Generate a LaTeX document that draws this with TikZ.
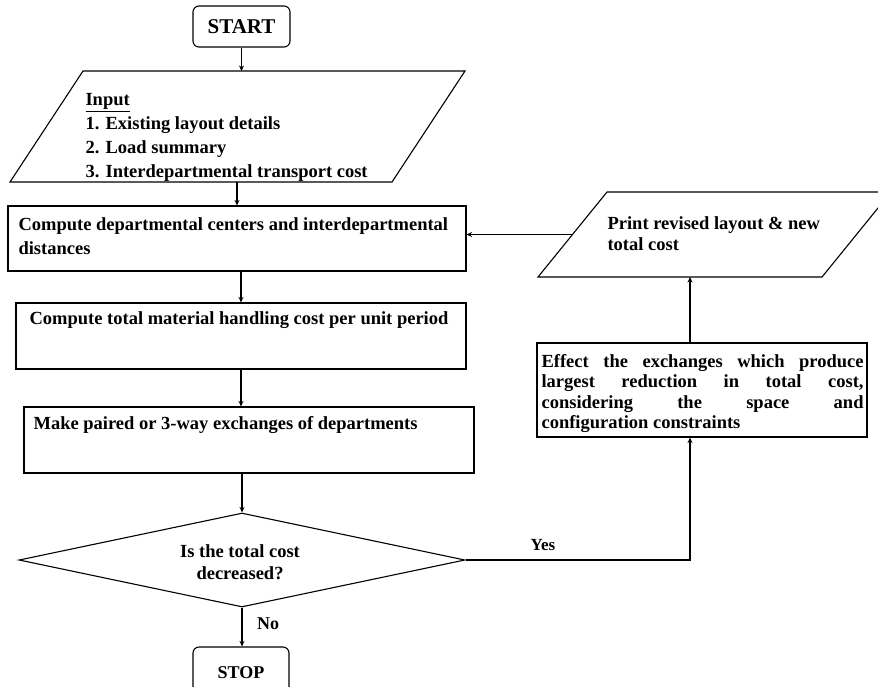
\documentclass[tikz,border=0pt]{standalone}
\usepackage{fontspec}
\setmainfont{Liberation Serif}
\usetikzlibrary{arrows.meta,shapes.geometric}
\begin{document}
\begin{tikzpicture}[x=1pt,y=-1pt,
  line width=1.1pt,
  arr/.style={-{Stealth[length=5.5pt,width=5pt]}},
  box/.style={draw, rectangle, inner sep=0pt},
  term/.style={draw, rectangle, rounded corners=6pt, inner sep=0pt},
  area/.style={rectangle, inner sep=0pt, outer sep=0pt},
  dec/.style={draw, diamond, inner sep=0pt},
  txt/.style={inner sep=0pt, align=left, font=\fontsize{18.5}{24}\selectfont\bfseries},
]
\useasboundingbox (0,0) rectangle (878,686);

% terminals
\node[term, minimum width=97pt, minimum height=41pt,
      font=\fontsize{21}{24}\selectfont\bfseries] (start) at (241.5,26.5) {START};
\node[term, minimum width=96pt, minimum height=52pt,
      font=\fontsize{18}{22}\selectfont\bfseries] (stop) at (241,673) {STOP};

% input parallelogram
\node[area, minimum width=455pt, minimum height=111pt] (inp) at (237.5,126.5) {};
\draw ([xshift=73pt]inp.north west) -- (inp.north east)
   -- ([xshift=-73pt]inp.south east) -- (inp.south west) -- cycle;
\node[txt, anchor=north west] (inptxt) at (85,93)
  {\underline{Input}\\1. Existing layout details\\2. Load summary\\3. Interdepartmental transport cost};

% process boxes
\node[box, minimum width=458pt, minimum height=65pt] (box1) at (237,238.5) {};
\node[txt, anchor=north west] (box1txt) at (18,217)
  {Compute departmental centers and interdepartmental\\distances};

\node[box, minimum width=450pt, minimum height=66pt] (box2) at (241,336) {};
\node[txt, anchor=north] (box2txt) at (239,311)
  {Compute total material handling cost per unit period};

\node[box, minimum width=450pt, minimum height=66pt] (box3) at (249,440) {};
\node[txt, anchor=north west] (box3txt) at (33,416)
  {Make paired or 3-way exchanges of departments};

% decision
\node[dec, minimum width=446pt, minimum height=94pt] (dia) at (242,560) {};
\node[txt, align=center, font=\fontsize{18.5}{22}\selectfont\bfseries, anchor=north] (diatxt) at (240,544)
  {Is the total cost\\decreased?};

% right column
\node[area, minimum width=353pt, minimum height=85pt] (pr) at (714.5,234.5) {};
\draw ([xshift=69pt]pr.north west) -- (pr.north east)
   -- ([xshift=-69pt]pr.south east) -- (pr.south west) -- cycle;
\node[txt, anchor=north west, font=\fontsize{18.5}{21}\selectfont\bfseries] (prtxt) at (607,216)
  {Print revised layout \& new\\total cost};

\node[box, minimum width=330pt, minimum height=94pt] (eff) at (702,390) {};
\node[txt, anchor=north west, font=\fontsize{18.5}{20.3}\selectfont\bfseries] (efftxt) at (541,354)
  {\makebox[322pt][s]{Effect the exchanges which produce}\\
   \makebox[322pt][s]{largest reduction in total cost,}\\
   \makebox[322pt][s]{considering the space and}\\
   configuration constraints};

% connectors
\draw[arr] (start.south) -- (start.south |- inp.north);
\draw[arr] (box1.north |- inp.south) -- (box1.north);
\draw[arr] (box2.north |- box1.south) -- (box2.north);
\draw[arr] (box2.south) -- (box2.south |- box3.north);
\draw[arr] (dia.north |- box3.south) -- (dia.north);
\draw[arr] (dia.south) -- (dia.south |- stop.north);
\draw[arr] (dia.east) -| ([xshift=-12pt]eff.south);
\draw[arr] ([xshift=-12pt]eff.north) -- ([xshift=-12pt]eff.north |- pr.south);
\draw[arr] ([xshift=34.5pt]pr.west) -- (box1.east |- pr.west);

% labels
\node[txt, font=\fontsize{17}{20}\selectfont\bfseries] (yes) at (543,545) {Yes};
\node[txt, font=\fontsize{18}{20}\selectfont\bfseries] (no) at (268,624) {No};
\end{tikzpicture}
\end{document}
